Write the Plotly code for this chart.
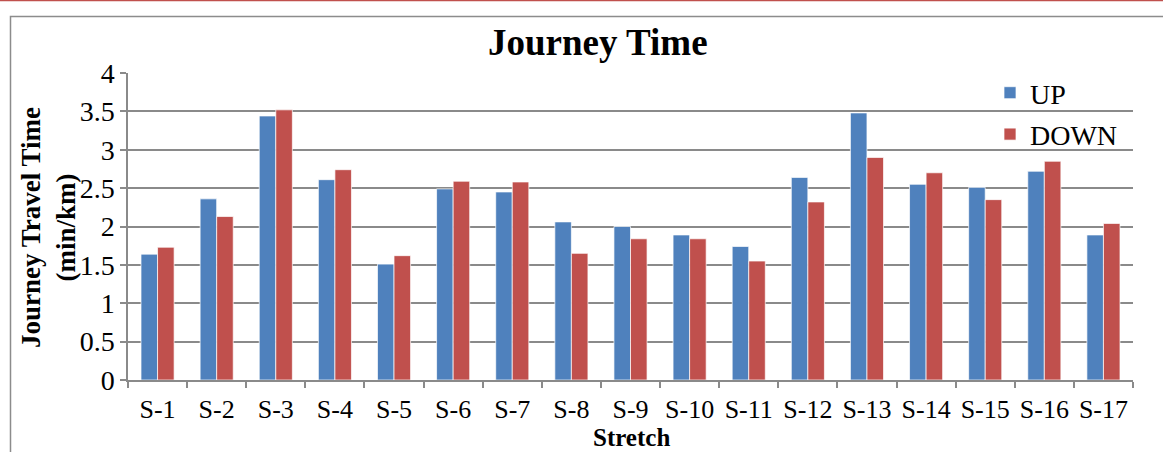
import plotly.graph_objects as go

# Journey travel time per stretch, both directions (min/km)
stretches = ["S-1", "S-2", "S-3", "S-4", "S-5", "S-6", "S-7", "S-8", "S-9",
             "S-10", "S-11", "S-12", "S-13", "S-14", "S-15", "S-16", "S-17"]
up_values = [1.64, 2.36, 3.44, 2.61, 1.51, 2.49, 2.45, 2.06, 2.00,
             1.89, 1.74, 2.64, 3.48, 2.55, 2.51, 2.72, 1.89]
down_values = [1.73, 2.13, 3.52, 2.74, 1.62, 2.59, 2.58, 1.65, 1.84,
               1.84, 1.55, 2.32, 2.90, 2.70, 2.35, 2.85, 2.04]
y_ticks = [0, 0.5, 1, 1.5, 2, 2.5, 3, 3.5, 4]
y_tick_text = ["0", "0.5", "1", "1.5", "2", "2.5", "3", "3.5", "4"]

W, H = 1163, 452
L, R, T, B = 128, 30, 73, 72
plot_w = W - L - R
plot_h = H - T - B


def px_x(p):
    return (p - L) / plot_w


def px_y(p):
    return (H - B - p) / plot_h


SERIF = "Liberation Serif"
GRID = "#8a8a8a"

fig = go.Figure()
fig.add_trace(go.Bar(
    x=stretches, y=up_values, name="UP", legendgroup="up",
    marker=dict(color="#4F81BD", line=dict(color="rgba(255,255,255,0.7)", width=1)),
))
fig.add_trace(go.Bar(
    x=stretches, y=down_values, name="DOWN", legendgroup="down",
    marker=dict(color="#C0504D", line=dict(color="rgba(255,255,255,0.7)", width=1)),
))

fig.update_layout(
    width=W, height=H,
    margin=dict(l=L, r=R, t=T, b=B),
    paper_bgcolor="white", plot_bgcolor="white",
    barmode="group", bargap=0.44, bargroupgap=0,
    font=dict(family=SERIF, color="black"),
    showlegend=True,
    legend=dict(
        x=px_x(990), y=px_y(68), xanchor="left", yanchor="top",
        font=dict(family=SERIF, size=28, color="black"),
        bgcolor="rgba(0,0,0,0)", itemwidth=30,
        tracegroupgap=2, traceorder="grouped",
    ),
)

fig.update_xaxes(
    showline=True, linecolor=GRID, linewidth=1.5,
    ticks="outside", tickson="boundaries", ticklen=6, tickcolor=GRID, tickwidth=1.5,
    tickangle=0, ticklabelstandoff=5,
    tickfont=dict(family=SERIF, size=26, color="black"),
    showgrid=False,
)
fig.update_yaxes(
    range=[0, 4], tickvals=y_ticks, ticktext=y_tick_text,
    showline=True, linecolor=GRID, linewidth=1.5,
    ticks="outside", ticklen=6, tickcolor=GRID, tickwidth=1.5,
    tickfont=dict(family=SERIF, size=28, color="black"),
    showgrid=True, gridcolor=GRID, gridwidth=1.5,
    zeroline=False,
)

# Chart frame and top rule
fig.add_shape(type="rect", xref="paper", yref="paper",
              x0=px_x(10.5), y0=px_y(470), x1=px_x(1180), y1=px_y(16.5),
              line=dict(color="#8c8c8c", width=1.5), fillcolor="rgba(0,0,0,0)",
              layer="below")
fig.add_shape(type="line", xref="paper", yref="paper",
              x0=px_x(-5), y0=px_y(0.5), x1=px_x(1170), y1=px_y(0.5),
              line=dict(color="#C0504D", width=1.5))

# Title
fig.add_annotation(text="<b>Journey Time</b>", xref="paper", yref="paper",
                   x=px_x(598), y=px_y(43), xanchor="center", yanchor="middle",
                   showarrow=False, font=dict(family=SERIF, size=37, color="black"))
# Axis titles
fig.add_annotation(text="<b>Stretch</b>", xref="paper", yref="paper",
                   x=px_x(631), y=px_y(437), xanchor="center", yanchor="middle",
                   showarrow=False, borderpad=0,
                   font=dict(family=SERIF, size=25, color="black"))
fig.add_annotation(text="<b>Journey Travel Time<br>(min/km)</b>", xref="paper", yref="paper",
                   x=px_x(48), y=px_y(228), xanchor="center", yanchor="middle",
                   textangle=-90, showarrow=False,
                   font=dict(family=SERIF, size=27, color="black"))

fig.write_html("out.html")
